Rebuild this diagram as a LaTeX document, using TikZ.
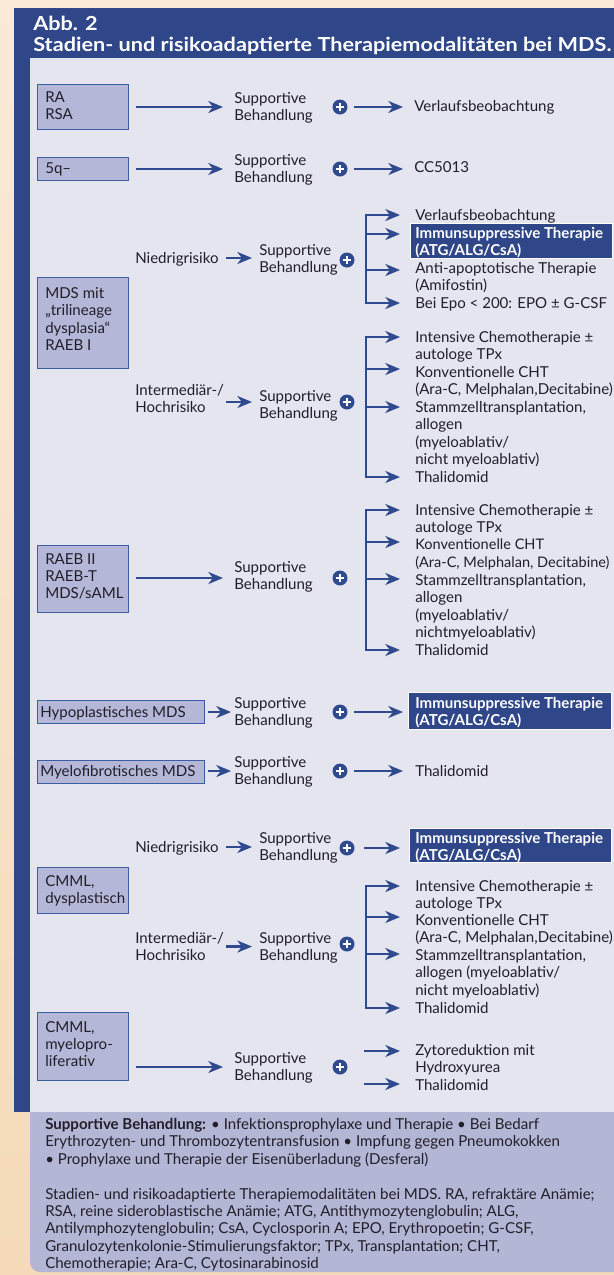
\documentclass[tikz,border=0pt]{standalone}
\usepackage{fontspec}
\setmainfont{Lato}
\newfontfamily\ttlfont[FakeStretch=1.12]{Lato}
\usetikzlibrary{arrows.meta,calc}
\definecolor{peachtop}{HTML}{FAEAD6}
\definecolor{peachbot}{HTML}{F4DAB8}
\definecolor{hblue}{HTML}{2F4688}
\definecolor{panel}{HTML}{E4E5EF}
\definecolor{boxfill}{HTML}{B4B7D7}
\definecolor{boxline}{HTML}{3D5CA3}
\definecolor{legendc}{HTML}{B3B6D5}
\definecolor{txtc}{HTML}{221E2A}
\definecolor{arrc}{HTML}{2F4A8E}
\newcommand{\fst}{\rule{0pt}{8.8pt}}
\tikzset{
 txtbase/.style={font=\fontsize{11.3}{13.05}\selectfont, inner sep=0pt, text=txtc},
 txtone/.style={txtbase, anchor=west, text height=8.8pt, text depth=0.7pt},
 txtm/.style={txtbase, anchor=north west, align=left, execute at begin node=\fst},
 hltxt/.style={txtm, text=white, font=\bfseries\fontsize{11.3}{13.05}\selectfont},
 ttl/.style={font=\ttlfont\bfseries\fontsize{14.5}{16}\selectfont, text=white, inner sep=0pt, anchor=west, text height=10.4pt, text depth=0pt},
 stagebox/.style={draw=boxline, fill=boxfill, line width=1.1pt, inner sep=0pt, anchor=north west},
 hlbox/.style={draw=white, fill=hblue, line width=1pt, inner sep=0pt, anchor=north west},
 arr/.style={draw=arrc, line width=1.65pt, -{Stealth[length=11pt,width=9pt,inset=3.4pt]}},
 arrb/.style={draw=arrc, line width=1.65pt, {Stealth[length=11pt,width=9pt,inset=3.4pt]}-{Stealth[length=11pt,width=9pt,inset=3.4pt]}},
 plus/.style={circle, fill=arrc, minimum size=11.25pt, inner sep=0pt,
   path picture={\draw[white, line width=1.5pt]
     ([xshift=-3.2pt]path picture bounding box.center) -- ([xshift=3.2pt]path picture bounding box.center)
     ([yshift=-3.2pt]path picture bounding box.center) -- ([yshift=3.2pt]path picture bounding box.center);}},
}
\begin{document}
\begin{tikzpicture}[x=0.75pt,y=-0.75pt]
\useasboundingbox (0,0) rectangle (614,1275);
\shade[top color=peachtop,bottom color=peachbot] (0,0) rectangle (614,1275);
\fill[hblue] (14,8) rectangle (614,1112);
\fill[panel] (30,58) rectangle (614,1112);
\fill[legendc] (614,1112) -- (30,1112) -- (30,1262) arc[start angle=180,end angle=90,radius=10] -- (614,1272) -- cycle;

% title
\node[ttl] (ttl1) at (33,24) {Abb. 2};
\node[ttl] (ttl2) at (33,45) {Stadien- und risikoadaptierte Therapiemodalitäten bei MDS.};

% ---------- row 1
\node[stagebox, minimum width=68.25pt, minimum height=33.75pt] (ra) at (37,84) {};
\node[txtm] (rat) at (45,91) {RA\\RSA};
\node[txtm] (s1) at (234,92) {Supportive\\Behandlung};
\node[plus] (p1) at (340,107) {};
\node[txtone] (v1) at (414,106) {Verlaufsbeobachtung};
\draw[arr] ($(ra.east |- p1)+(7,0)$) -- ($(p1 -| s1.west)+(-11,0)$);
\draw[arr] ($(p1.east)+(6.5,0)$) -- ($(p1 -| v1.west)+(-11,0)$);

% ---------- row 2
\node[stagebox, minimum width=68.25pt, minimum height=17.25pt] (q5) at (37,157) {};
\node[txtone] (q5t) at (45,168) {5q–};
\node[txtm] (s2) at (234,154) {Supportive\\Behandlung};
\node[plus] (p2) at (340,169) {};
\node[txtone] (c2) at (414,167) {CC5013};
\draw[arr] ($(q5.east |- p2)+(7,0)$) -- ($(p2 -| s2.west)+(-11,0)$);
\draw[arr] ($(p2.east)+(6.5,0)$) -- ($(p2 -| c2.west)+(-11,0)$);

% ---------- MDS trilineage
\node[stagebox, minimum width=68.25pt, minimum height=68.25pt] (mds) at (37,277) {};
\node[txtm] (mdst) at (45,287) {MDS mit\\„trilineage\\dysplasia“\\RAEB I};
\node[txtone] (n1) at (135,258) {Niedrigrisiko};
\node[txtm] (s3) at (259,244) {Supportive\\Behandlung};
\node[plus] (p3) at (347,260) {};
\draw[arr] ($(n1 -| s3.west)+(-33,0)$) -- ($(n1 -| s3.west)+(-7,0)$);
\coordinate (b3) at (366,260);
\node[txtone] (t31) at (415,215) {Verlaufsbeobachtung};
\node[hlbox, minimum width=151.5pt, minimum height=26.25pt] (h3) at (410,223) {};
\node[hltxt] (h3t) at (415,227) {Immunsuppressive Therapie\\(ATG/ALG/CsA)};
\node[txtm] (t33) at (415,262) {Anti-apoptotische Therapie\\(Amifostin)};
\node[txtone] (t34) at (415,303) {Bei Epo < 200: EPO ± G-CSF};
\coordinate (a31) at ($(t31.west)+(-15,0)$);
\coordinate (a32) at ($(h3t.north west)+(-15,7)$);
\coordinate (a33) at ($(t33.north west)+(-15,8)$);
\coordinate (a34) at ($(t34.west)+(-15,0)$);
\draw[arrb] (a31) -- (a31 -| b3) -- (a34 -| b3) -- (a34);
\draw[arr] (a32 -| b3) -- (a32);
\draw[arr] (a33 -| b3) -- (a33);

\node[txtm] (i1) at (135,384) {Intermediär-/\\Hochrisiko};
\node[txtm] (s4) at (259,390) {Supportive\\Behandlung};
\node[plus] (p4) at (347,402) {};
\draw[arr] ($(p4 -| s4.west)+(-33,0)$) -- ($(p4 -| s4.west)+(-7,0)$);
\coordinate (b4) at (366,402);
\node[txtm] (t41) at (415,331) {Intensive Chemotherapie ±\\autologe TPx};
\node[txtm] (t42) at (415,366) {Konventionelle CHT\\(Ara-C, Melphalan,Decitabine)};
\node[txtm] (t43) at (415,401) {Stammzelltransplantation,\\allogen\\(myeloablativ/\\nicht myeloablativ)};
\node[txtone] (t44) at (415,477) {Thalidomid};
\coordinate (a41) at ($(t41.north west)+(-15,6)$);
\coordinate (a42) at ($(t42.north west)+(-15,3)$);
\coordinate (a43) at ($(t43.north west)+(-15,6)$);
\coordinate (a44) at ($(t44.west)+(-15,0)$);
\draw[arrb] (a41) -- (a41 -| b4) -- (a44 -| b4) -- (a44);
\draw[arr] (a42 -| b4) -- (a42);
\draw[arr] (a43 -| b4) -- (a43);

% ---------- RAEB II
\node[stagebox, minimum width=68.25pt, minimum height=50.25pt] (raeb) at (37,545) {};
\node[txtm] (raebt) at (45,553) {RAEB II\\RAEB-T\\MDS/sAML};
\node[txtm] (s5) at (234,561) {Supportive\\Behandlung};
\node[plus] (p5) at (340,578) {};
\draw[arr] ($(raeb.east |- p5)+(7,0)$) -- ($(p5 -| s5.west)+(-11,0)$);
\coordinate (b5) at (366,578);
\node[txtm] (t51) at (415,504) {Intensive Chemotherapie ±\\autologe TPx};
\node[txtm, font=\fontsize{10.9}{13.05}\selectfont] (t52) at (415,539) {Konventionelle CHT\\(Ara-C, Melphalan, Decitabine)};
\node[txtm] (t53) at (415,574) {Stammzelltransplantation,\\allogen\\(myeloablativ/\\nichtmyeloablativ)};
\node[txtone] (t54) at (415,650) {Thalidomid};
\coordinate (a51) at ($(t51.north west)+(-15,6)$);
\coordinate (a52) at ($(t52.north west)+(-15,3)$);
\coordinate (a53) at ($(t53.north west)+(-15,5)$);
\coordinate (a54) at ($(t54.west)+(-15,0)$);
\draw[arrb] (a51) -- (a51 -| b5) -- (a54 -| b5) -- (a54);
\draw[arr] (a52 -| b5) -- (a52);
\draw[arr] (a53 -| b5) -- (a53);

% ---------- Hypoplastisches
\node[stagebox, minimum width=125.25pt, minimum height=17.25pt] (hypo) at (37,700) {};
\node[txtone] (hypot) at (40,712) {Hypoplastisches MDS};
\node[txtm] (s6) at (234,697) {Supportive\\Behandlung};
\node[plus] (p6) at (340,712) {};
\node[hlbox, minimum width=152.25pt, minimum height=27.75pt] (h6) at (408,692) {};
\node[hltxt] (h6t) at (415,697) {Immunsuppressive Therapie\\(ATG/ALG/CsA)};
\draw[arr] ($(hypo.east |- p6)+(3,0)$) -- ($(p6 -| s6.west)+(-3,0)$);
\draw[arr] ($(p6.east)+(6.5,0)$) -- ($(p6 -| h6.west)+(-5,0)$);

% ---------- Myelofibrotisches
\node[stagebox, minimum width=125.25pt, minimum height=17.25pt] (myf) at (37,760) {};
\node[txtone] (myft) at (40,771) {Myelofibrotisches MDS};
\node[txtm] (s7) at (234,756) {Supportive\\Behandlung};
\node[plus] (p7) at (340,771) {};
\node[txtone] (t7) at (415,771) {Thalidomid};
\draw[arr] ($(myf.east |- p7)+(3,0)$) -- ($(p7 -| s7.west)+(-3,0)$);
\draw[arr] ($(p7.east)+(6.5,0)$) -- ($(p7 -| t7.west)+(-12,0)$);

% ---------- CMML dysplastisch
\node[stagebox, minimum width=68.25pt, minimum height=34.5pt] (cd) at (37,867) {};
\node[txtm] (cdt) at (45,875) {CMML,\\dysplastisch};
\node[txtone] (n2) at (135,847) {Niedrigrisiko};
\node[txtm] (s8) at (259,832) {Supportive\\Behandlung};
\node[plus] (p8) at (347,848) {};
\node[hlbox, minimum width=151.5pt, minimum height=25.5pt] (h8) at (409,828) {};
\node[hltxt] (h8t) at (415,832) {Immunsuppressive Therapie\\(ATG/ALG/CsA)};
\draw[arr] ($(n2 -| s8.west)+(-33,0)$) -- ($(n2 -| s8.west)+(-7,0)$);
\draw[arr] ($(p8.east)+(9.5,0)$) -- ($(p8 -| h8.west)+(-9,0)$);

\node[txtm] (i2) at (135,932) {Intermediär-/\\Hochrisiko};
\node[txtm] (s9) at (259,932) {Supportive\\Behandlung};
\node[plus] (p9) at (347,944) {};
\draw[arr] ($(i2 -| s9.west)+(-33,0)$) -- ($(i2 -| s9.west)+(-7,0)$);
\coordinate (b9) at (366,944);
\node[txtm] (t91) at (415,880) {Intensive Chemotherapie ±\\autologe TPx};
\node[txtm] (t92) at (415,914) {Konventionelle CHT\\(Ara-C, Melphalan,Decitabine)};
\node[txtm] (t93) at (415,949) {Stammzelltransplantation,\\allogen (myeloablativ/\\nicht myeloablativ)};
\node[txtone] (t94) at (415,1008) {Thalidomid};
\coordinate (a91) at ($(t91.north west)+(-15,6)$);
\coordinate (a92) at ($(t92.north west)+(-15,3)$);
\coordinate (a93) at ($(t93.north west)+(-15,5)$);
\coordinate (a94) at ($(t94.west)+(-15,0)$);
\draw[arrb] (a91) -- (a91 -| b9) -- (a94 -| b9) -- (a94);
\draw[arr] (a92 -| b9) -- (a92);
\draw[arr] (a93 -| b9) -- (a93);

% ---------- CMML myeloproliferativ
\node[stagebox, minimum width=68.25pt, minimum height=51pt] (cm) at (37,1012) {};
\node[txtm] (cmt) at (45,1021) {CMML,\\myelopro-\\liferativ};
\node[txtm] (s10) at (234,1052) {Supportive\\Behandlung};
\node[plus] (p10) at (340,1067) {};
\draw[arr] ($(cm.east |- p10)+(7,0)$) -- ($(p10 -| s10.west)+(-11,0)$);
\node[txtm] (t10) at (415,1044) {Zytoreduktion mit\\Hydroxyurea\\Thalidomid};
\coordinate (a101) at ($(t10.north west)+(-15,7)$);
\coordinate (a102) at ($(t10.north west)+(-15,40)$);
\draw[arr] ($(a101)+(-36,0)$) -- (a101);
\draw[arr] ($(a102)+(-36,0)$) -- (a102);

% ---------- legend
\node[txtm] (leg) at (45,1118) {\textbf{Supportive Behandlung:} • Infektionsprophylaxe und Therapie • Bei Bedarf\\
Erythrozyten- und Thrombozytentransfusion • Impfung gegen Pneumokokken\\
• Prophylaxe und Therapie der Eisenüberladung (Desferal)\\[13.05pt]
Stadien- und risikoadaptierte Therapiemodalitäten bei MDS. RA, refraktäre Anämie;\\
RSA, reine sideroblastische Anämie; ATG, Antithymozytenglobulin; ALG,\\
Antilymphozytenglobulin; CsA, Cyclosporin A; EPO, Erythropoetin; G-CSF,\\
Granulozytenkolonie-Stimulierungsfaktor; TPx, Transplantation; CHT,\\
Chemotherapie; Ara-C, Cytosinarabinosid};
\end{tikzpicture}
\end{document}
